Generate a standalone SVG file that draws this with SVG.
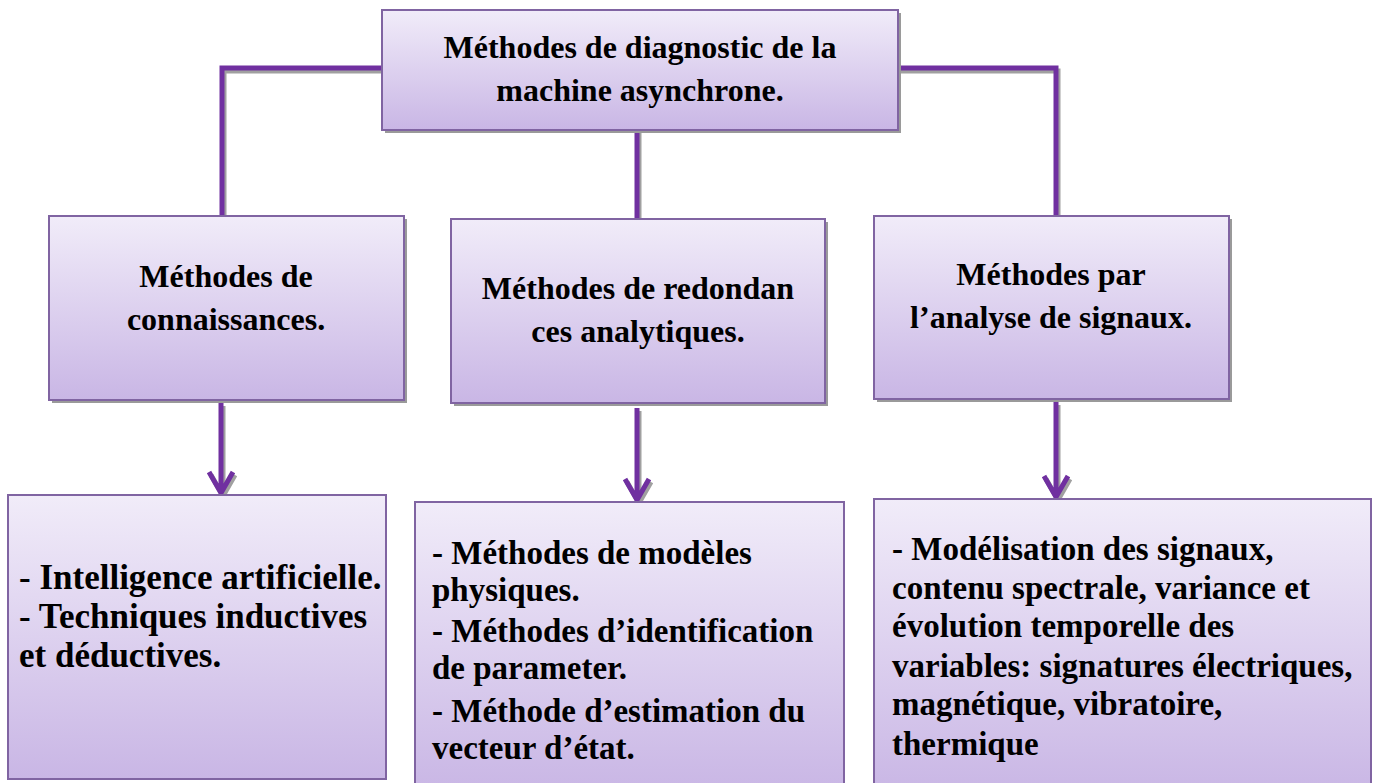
<svg xmlns="http://www.w3.org/2000/svg" width="1375" height="783" viewBox="0 0 1375 783">
<defs>
<linearGradient id="g" x1="0" y1="0" x2="0" y2="1">
<stop offset="0" stop-color="#F1ECF9"/>
<stop offset="1" stop-color="#C9B6E5"/>
</linearGradient>
<style>
.box{fill:url(#g);stroke:#8064A2;stroke-width:2}
.sh{fill:#9A9A9A}
.t{font-family:"Liberation Serif","Times New Roman",serif;font-weight:bold;font-size:32px;fill:#000}
.b5{font-size:35px}
.b6{font-size:33px}
.c{text-anchor:middle}
.ln{fill:none;stroke:#7030A0;stroke-width:5}
.lsh{fill:none;stroke:#A0A0A0;stroke-width:5}
</style>
</defs>
<rect width="1375" height="783" fill="#fff"/>
<g id="connectors">
<g transform="translate(2,3)">
<path class="lsh" d="M222 216 V68 H382 M898 68 H1056 V216 M637 130 V219"/>
<path class="lsh" d="M221 403 V493 M209 472 L221 493 L233 472 M637 408 V500 M625 479 L637 500 L649 479 M1056 402 V497 M1044 476 L1056 497 L1068 476"/>
</g>
<path class="ln" d="M222 216 V68 H382 M898 68 H1056 V216 M637 130 V219"/>
<path class="ln" d="M221 403 V493 M209 472 L221 493 L233 472 M637 408 V500 M625 479 L637 500 L649 479 M1056 402 V497 M1044 476 L1056 497 L1068 476"/>
</g>
<g id="root">
<rect class="sh" x="385" y="13" width="516" height="120"/>
<rect class="box" x="382" y="10" width="516" height="120"/>
<text class="t c" x="640" y="58">Méthodes de diagnostic de la</text>
<text class="t c" x="640" y="101">machine asynchrone.</text>
</g>
<g id="connaissances">
<rect class="sh" x="52" y="219" width="355" height="184"/>
<rect class="box" x="49" y="216" width="355" height="184"/>
<text class="t c" x="226" y="287">Méthodes de</text>
<text class="t c" x="226" y="330">connaissances.</text>
</g>
<g id="redondances">
<rect class="sh" x="454" y="222" width="374" height="184"/>
<rect class="box" x="451" y="219" width="374" height="184"/>
<text class="t c" x="638" y="299">Méthodes de redondan</text>
<text class="t c" x="638" y="342">ces analytiques.</text>
</g>
<g id="signaux">
<rect class="sh" x="877" y="219" width="355" height="183"/>
<rect class="box" x="874" y="216" width="355" height="183"/>
<text class="t c" x="1051" y="285">Méthodes par</text>
<text class="t c" x="1051" y="328">l’analyse de signaux.</text>
</g>
<g id="ia">
<rect class="box" x="8" y="495" width="378" height="284"/>
<text class="t b5" x="19" y="589">- Intelligence artificielle.</text>
<text class="t b5" x="19" y="628">- Techniques inductives</text>
<text class="t b5" x="19" y="667">et déductives.</text>
</g>
<g id="modeles">
<rect class="box" x="415" y="502" width="429" height="290"/>
<text class="t b6" x="432" y="564">- Méthodes de modèles</text>
<text class="t b6" x="432" y="601">physiques.</text>
<text class="t b6" x="432" y="642">- Méthodes d’identification</text>
<text class="t b6" x="432" y="679">de parameter.</text>
<text class="t b6" x="432" y="722">- Méthode d’estimation du</text>
<text class="t b6" x="432" y="759">vecteur d’état.</text>
</g>
<g id="modelisation">
<rect class="box" x="874" y="499" width="497" height="295"/>
<text class="t b6" x="892" y="560">- Modélisation des signaux,</text>
<text class="t b6" x="892" y="599">contenu spectrale, variance et</text>
<text class="t b6" x="892" y="637">évolution temporelle des</text>
<text class="t b6" x="892" y="677">variables: signatures électriques,</text>
<text class="t b6" x="892" y="715">magnétique, vibratoire,</text>
<text class="t b6" x="892" y="755">thermique</text>
</g>
</svg>
